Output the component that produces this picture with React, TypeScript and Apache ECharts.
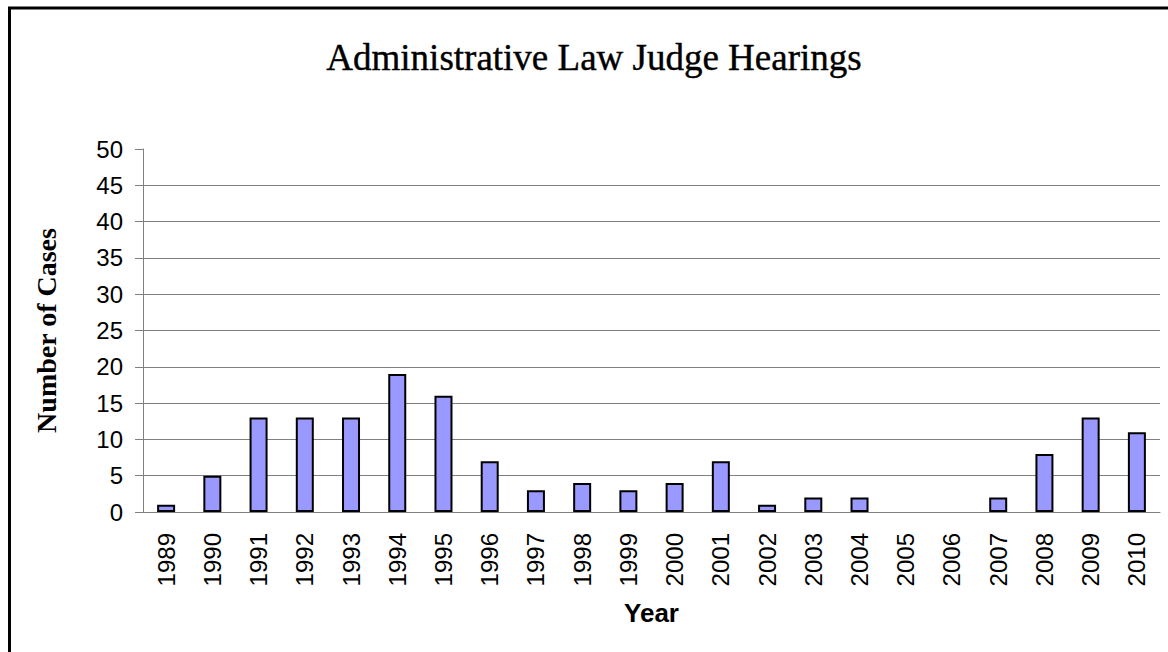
import React, { useEffect, useRef } from "react";
import * as echarts from "echarts";

const years = ["1989","1990","1991","1992","1993","1994","1995","1996","1997","1998","1999","2000","2001","2002","2003","2004","2005","2006","2007","2008","2009","2010"];
const cases = [1,5,13,13,13,19,16,7,3,4,3,4,7,1,2,2,0,0,2,8,13,11];
const gridColors = ["#808080","#808080","#808080","#808080","#808080","#808080","#808080","#808080","#808080","#808080","transparent"];

export default function App() {
  const ref = useRef<HTMLDivElement>(null);
  useEffect(() => {
    document.body.style.margin = "0";
    const chart = echarts.init(ref.current!, null, { renderer: "svg" });
    chart.setOption({
      animation: false,
      backgroundColor: "#ffffff",
      grid: { left: 143, right: 8, top: 149, bottom: 140 },
      graphic: [
        { type: "line", shape: { x1: 9.5, y1: 8, x2: 9.5, y2: 652 }, style: { stroke: "#000", lineWidth: 3 } },
        { type: "line", shape: { x1: 8, y1: 8, x2: 1168, y2: 8 }, style: { stroke: "#000", lineWidth: 3 } },
        {
          type: "text", x: 594, y: 57,
          style: { text: "Administrative Law Judge Hearings", font: "37px 'Liberation Serif'", fill: "#000", align: "center", verticalAlign: "middle", stroke: "#000", lineWidth: 0.4 },
        },
      ],
      xAxis: {
        type: "category",
        data: years,
        name: "Year",
        nameLocation: "middle",
        nameGap: 88,
        nameTextStyle: { fontFamily: "Liberation Sans", fontWeight: "bold", fontSize: 26, color: "#000" },
        axisLine: { lineStyle: { color: "#808080", width: 1 } },
        axisTick: { length: 7, lineStyle: { color: "#808080" } },
        axisLabel: { rotate: 90, margin: 21, fontFamily: "Liberation Sans", fontSize: 24, color: "#000", interval: 0 },
      },
      yAxis: {
        type: "value",
        min: 0, max: 50, interval: 5,
        name: "Number of Cases",
        nameLocation: "middle",
        nameGap: 83,
        nameRotate: 90,
        nameTextStyle: { fontFamily: "Liberation Serif", fontWeight: "bold", fontSize: 28, color: "#000" },
        axisLine: { show: true, lineStyle: { color: "#808080", width: 1 } },
        axisTick: { show: true, length: 8, lineStyle: { color: "#808080" } },
        axisLabel: { margin: 20, fontFamily: "Liberation Sans", fontSize: 24, color: "#000" },
        splitLine: { show: true, lineStyle: { color: gridColors, width: 1 } },
      },
      series: [
        {
          type: "bar",
          data: cases.map((v) => (v === 0 ? { value: v, itemStyle: { borderWidth: 0 } } : v)),
          barWidth: 18,
          itemStyle: { color: "#9999FF", borderColor: "#000", borderWidth: 2 },
        },
      ],
    });
    return () => chart.dispose();
  }, []);
  return <div ref={ref} style={{ position: "absolute", left: 0, top: 0, width: 1168, height: 652 }} />;
}
